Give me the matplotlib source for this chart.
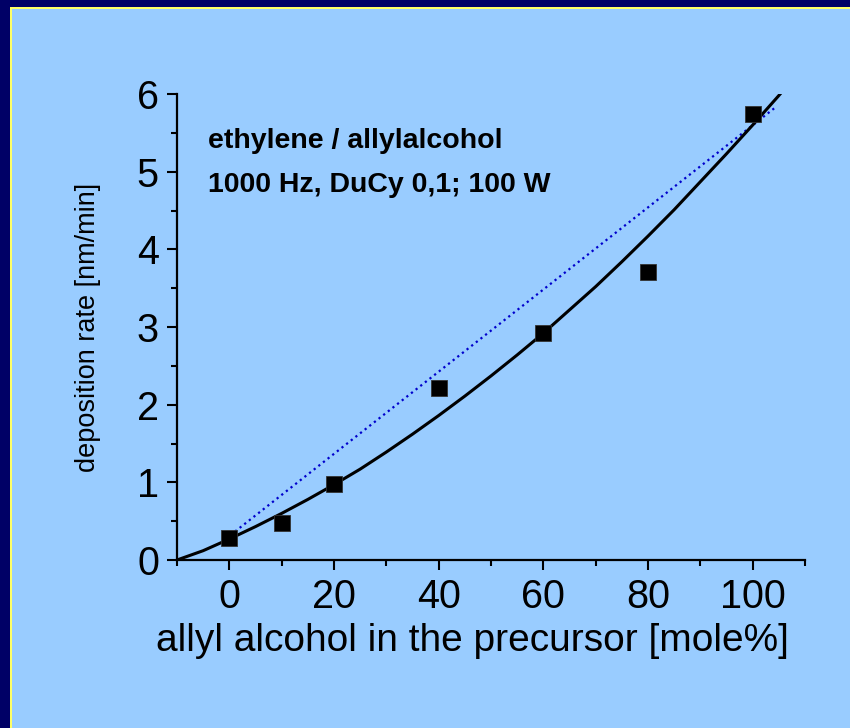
"""Deposition rate vs. allyl alcohol content in the precursor."""

import matplotlib

matplotlib.use("Agg")
import matplotlib.pyplot as plt
from matplotlib.patches import Rectangle
from matplotlib.ticker import MultipleLocator

# measured points
allyl_pct = [0, 10, 20, 40, 60, 80, 100]
dep_rate = [0.28, 0.48, 0.98, 2.21, 2.92, 3.71, 5.74]

# fitted curve
fit_x = [-10, -5, 0, 5, 10, 15, 20, 25, 30, 35, 40, 45, 50, 55, 60,
         65, 70, 75, 80, 85, 90, 95, 100, 105, 107]
fit_y = [0.0, 0.12, 0.27, 0.43, 0.60, 0.78, 0.97, 1.17, 1.39, 1.62, 1.86,
         2.11, 2.37, 2.64, 2.92, 3.22, 3.52, 3.84, 4.17, 4.51, 4.87, 5.23,
         5.60, 5.98, 6.14]

# straight (linear) reference line
lin_x = [0.2, 104.2]
lin_y = [0.32, 5.82]

x_ticks = [0, 20, 40, 60, 80, 100]
y_ticks = [0, 1, 2, 3, 4, 5, 6]

NAVY = "#000066"
YELLOW = "#ffff66"
BG = "#99ccff"
FONT = ["Liberation Sans", "DejaVu Sans"]

plt.rcParams["font.family"] = FONT

fig = plt.figure(figsize=(8.5, 7.28), dpi=100, facecolor=BG)

# slide frame: navy strip top and left with a thin yellow line
fig.patches.append(Rectangle((0, 1 - 7 / 728), 1, 7 / 728, transform=fig.transFigure,
                             facecolor=NAVY, edgecolor="none", zorder=0))
fig.patches.append(Rectangle((0, 0), 10 / 850, 1, transform=fig.transFigure,
                             facecolor=NAVY, edgecolor="none", zorder=0))
fig.patches.append(Rectangle((10 / 850, 0), 2 / 850, 1 - 7 / 728, transform=fig.transFigure,
                             facecolor=YELLOW, edgecolor="none", zorder=0))
fig.patches.append(Rectangle((10 / 850, 1 - 9 / 728), 1, 2 / 728, transform=fig.transFigure,
                             facecolor=YELLOW, edgecolor="none", zorder=0))

ax = fig.add_axes([177 / 850, 1 - 560 / 728, 628 / 850, 466 / 728])
ax.set_facecolor("none")

ax.plot(lin_x, lin_y, color="#0000cc", linestyle=":", linewidth=1.6)
ax.plot(fit_x, fit_y, color="black", linewidth=2.2)
ax.plot(allyl_pct, dep_rate, linestyle="none", marker="s", markersize=11.5,
        color="black", markeredgecolor="#333333", markeredgewidth=0.6)

ax.set_xlim(-10, 110)
ax.set_ylim(0, 6)
ax.set_xticks(x_ticks)
ax.set_yticks(y_ticks)
ax.xaxis.set_minor_locator(MultipleLocator(10))
ax.yaxis.set_minor_locator(MultipleLocator(0.5))

for side in ("top", "right"):
    ax.spines[side].set_visible(False)
for side in ("left", "bottom"):
    ax.spines[side].set_linewidth(1.6)

ax.tick_params(which="major", direction="out", length=7, width=1.5,
               labelsize=28.5, pad=6)
ax.tick_params(which="minor", direction="out", length=4, width=1.5)

ax.set_xlabel("allyl alcohol in the precursor [mole%]", fontsize=28)
ax.xaxis.set_label_coords(0.47, -0.135)
ax.set_ylabel("deposition rate [nm/min]", fontsize=19.5, labelpad=26)

ax.text(0.05, 0.885, "ethylene / allylalcohol", transform=ax.transAxes,
        fontsize=20.5, fontweight="bold", va="baseline")
ax.text(0.05, 0.79, "1000 Hz, DuCy 0,1; 100 W", transform=ax.transAxes,
        fontsize=20.5, fontweight="bold", va="baseline")

fig.savefig("out.png", dpi=100, facecolor=BG)
